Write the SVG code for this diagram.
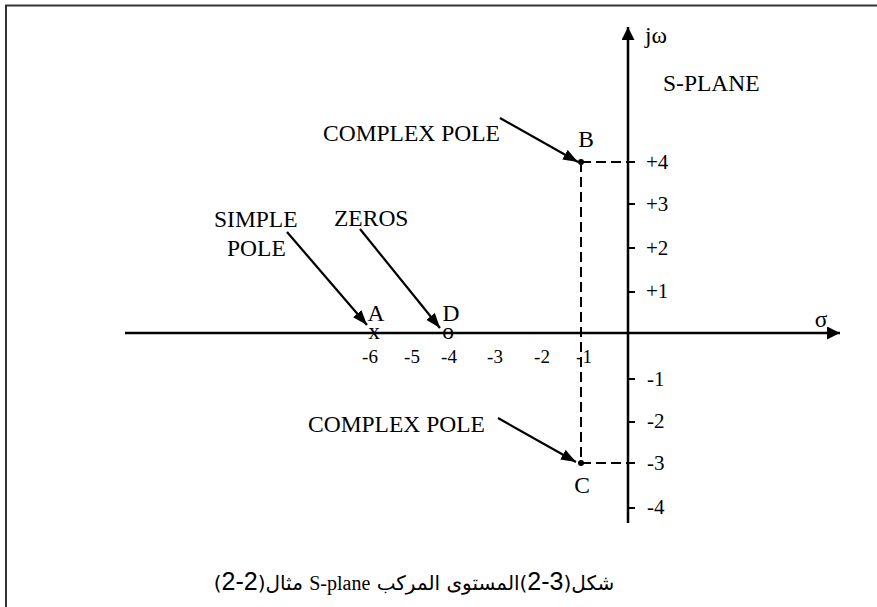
<svg xmlns="http://www.w3.org/2000/svg" width="877" height="607" viewBox="0 0 877 607">
<style>
.lbl{font-family:"Liberation Serif","Times New Roman",serif;font-size:23.5px;fill:#000}
.num{font-family:"Liberation Serif","Times New Roman",serif;font-size:19px;fill:#000}
.ynum{font-family:"Liberation Serif","Times New Roman",serif;font-size:21px;fill:#000}
.axis{stroke:#000;stroke-width:2.5;fill:none}
.tick{stroke:#000;stroke-width:2;fill:none}
.dash{stroke:#000;stroke-width:2;stroke-dasharray:10 5;fill:none}
.ptr{stroke:#000;stroke-width:2.2;fill:none}
.frame{stroke:#333;stroke-width:2;fill:none}
.cap{font-family:"DejaVu Sans","Noto Sans",sans-serif;font-size:20px;fill:#000}
.big{font-family:"Liberation Sans",Arial,sans-serif;font-size:25px}
</style>
<defs>
<marker id="axhead" viewBox="0 0 13 13" refX="13" refY="6.5" markerWidth="13" markerHeight="13" markerUnits="userSpaceOnUse" orient="auto">
<path d="M0,0 L13,6.5 L0,13 z" fill="#000"/>
</marker>
<marker id="phead" viewBox="0 0 15 11" refX="15" refY="5.5" markerWidth="15" markerHeight="11" markerUnits="userSpaceOnUse" orient="auto">
<path d="M0,0 L15,5.5 L0,11 z" fill="#000"/>
</marker>
</defs>
<g id="frame">
<line class="frame" x1="5" y1="5.5" x2="877" y2="5.5"/>
<line class="frame" x1="6" y1="5" x2="6" y2="607"/>
</g>
<g id="connectors">
<line class="axis" x1="125" y1="333" x2="840" y2="333" marker-end="url(#axhead)"/>
<line class="axis" x1="628" y1="523" x2="628" y2="27" marker-end="url(#axhead)"/>
<g class="tick">
<line x1="628" y1="162" x2="635" y2="162"/>
<line x1="628" y1="204" x2="635" y2="204"/>
<line x1="628" y1="248" x2="635" y2="248"/>
<line x1="628" y1="292" x2="635" y2="292"/>
<line x1="628" y1="379" x2="635" y2="379"/>
<line x1="628" y1="422" x2="635" y2="422"/>
<line x1="628" y1="463" x2="635" y2="463"/>
<line x1="628" y1="508" x2="635" y2="508"/>
</g>
<line class="dash" x1="581" y1="162" x2="628" y2="162"/>
<line class="dash" x1="581" y1="463" x2="628" y2="463"/>
<line class="dash" x1="581" y1="162" x2="581" y2="463"/>
<line class="ptr" x1="287" y1="232" x2="367" y2="325" marker-end="url(#phead)"/>
<line class="ptr" x1="360" y1="229" x2="440" y2="328" marker-end="url(#phead)"/>
<line class="ptr" x1="500" y1="118" x2="578" y2="162" marker-end="url(#phead)"/>
<line class="ptr" x1="498" y1="418" x2="576" y2="462" marker-end="url(#phead)"/>
</g>
<g id="axis-labels">
<text class="lbl" x="645" y="43" font-size="21">jω</text>
<text class="lbl" x="663" y="91">S-PLANE</text>
<text class="lbl" x="821" y="327" text-anchor="middle">σ</text>
<g class="ynum">
<text x="646" y="169">+4</text>
<text x="646" y="211">+3</text>
<text x="646" y="255">+2</text>
<text x="646" y="298">+1</text>
<text x="647" y="386">-1</text>
<text x="647" y="428">-2</text>
<text x="647" y="470">-3</text>
<text x="647" y="514">-4</text>
</g>
<g class="num" text-anchor="middle">
<text x="370" y="363">-6</text>
<text x="412" y="363">-5</text>
<text x="449" y="363">-4</text>
<text x="495" y="363">-3</text>
<text x="542" y="363">-2</text>
<text x="584" y="363">-1</text>
</g>
</g>
<g id="node-A">
<text class="lbl" x="376" y="321" text-anchor="middle">A</text>
<text class="lbl" x="374" y="339" text-anchor="middle" font-size="21">x</text>
</g>
<g id="node-D">
<text class="lbl" x="451" y="321" text-anchor="middle">D</text>
<text class="lbl" x="448" y="339" text-anchor="middle" font-size="21">o</text>
</g>
<g id="node-B">
<circle cx="581" cy="162" r="3" fill="#000"/>
<text class="lbl" x="586" y="147" text-anchor="middle">B</text>
</g>
<g id="node-C">
<circle cx="581" cy="463" r="3" fill="#000"/>
<text class="lbl" x="582" y="493" text-anchor="middle">C</text>
</g>
<g id="label-simple-pole">
<text class="lbl" x="214" y="227">SIMPLE</text>
<text class="lbl" x="227" y="256">POLE</text>
</g>
<g id="label-zeros">
<text class="lbl" x="334" y="226">ZEROS</text>
</g>
<g id="label-complex-top">
<text class="lbl" x="323" y="141">COMPLEX POLE</text>
</g>
<g id="label-complex-bottom">
<text class="lbl" x="308" y="432">COMPLEX POLE</text>
</g>
<g id="caption">
<text class="cap" x="414" y="590" text-anchor="middle" direction="rtl">شكل(<tspan class="big">3-2</tspan>)المستوى المركب <tspan font-family="Liberation Serif, serif">S-plane</tspan>  مثال(<tspan class="big">2-2</tspan>)</text>
</g>
</svg>
